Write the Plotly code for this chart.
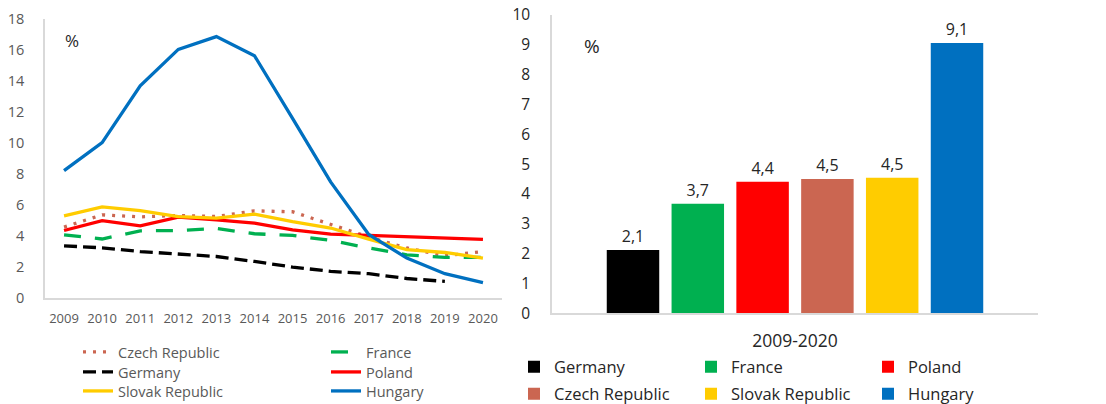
import plotly.graph_objects as go

years = list(range(2009, 2021))
czech = [4.58, 5.37, 5.24, 5.33, 5.26, 5.63, 5.57, 4.73, 3.94, 3.23, 2.73, 3.0]
france = [4.08, 3.81, 4.34, 4.36, 4.49, 4.15, 4.04, 3.72, 3.23, 2.79, 2.62, 2.62]
germany = [3.37, 3.24, 3.0, 2.86, 2.68, 2.36, 2.0, 1.72, 1.57, 1.26, 1.07, None]
poland = [4.36, 5.0, 4.66, 5.22, 5.05, 4.84, 4.4, 4.13, 4.04, 3.95, 3.89, 3.78]
slovak = [5.31, 5.89, 5.65, 5.26, 5.16, 5.42, 4.94, 4.52, 3.8, 3.12, 2.94, 2.58]
hungary = [8.23, 10.04, 13.7, 16.06, 16.88, 15.65, 11.6, 7.5, 4.1, 2.58, 1.57, 1.0]

bar_category = ["2009-2020"]
bar_names = ["Germany", "France", "Poland", "Czech Republic", "Slovak Republic", "Hungary"]
bar_values = [2.12, 3.67, 4.41, 4.5, 4.54, 9.06]
bar_colors = ["#000000", "#00B050", "#FF0000", "#CB6651", "#FFCC00", "#0070C0"]

W, H = 1106, 404
FONT = "Open Sans"
GRAY = "#595959"
DARK = "#262626"
AXIS = "#D9D9D9"

fig = go.Figure()

line_specs = [
    ("Czech Republic", czech, "#CB6651", "3px,7px", "legend"),
    ("France", france, "#00B050", "17px,14px", "legend"),
    ("Germany", germany, "#000000", "13px,6px", "legend2"),
    ("Poland", poland, "#FF0000", "solid", "legend2"),
    ("Slovak Republic", slovak, "#FFCC00", "solid", "legend3"),
    ("Hungary", hungary, "#0070C0", "solid", "legend3"),
]
for name, vals, col, dash, lg in line_specs:
    fig.add_trace(go.Scatter(
        x=years, y=vals, name=name, mode="lines",
        line=dict(color=col, width=3.3, dash=dash),
        xaxis="x", yaxis="y", legend=lg, connectgaps=False,
    ))

for i, (name, val, col) in enumerate(zip(bar_names, bar_values, bar_colors)):
    fig.add_trace(go.Bar(
        x=bar_category, y=[val], name=name, marker=dict(color=col, line=dict(width=0)),
        texttemplate="%{y:.1f}", textposition="outside",
        textfont=dict(family=FONT, size=16, color=DARK),
        xaxis="x2", yaxis="y2", legend="legend4" if i < 3 else "legend5",
        cliponaxis=False,
    ))

def px_x(p):
    return p / W

def px_y(p):
    return 1 - p / H

leg_common = dict(orientation="h", xanchor="left", yanchor="middle",
                  bgcolor="rgba(0,0,0,0)", borderwidth=0, entrywidthmode="pixels",
                  traceorder="normal")

layout_legends = {}
left_rows = [352, 372, 391]
for k, yrow in enumerate(left_rows):
    key = "legend" if k == 0 else f"legend{k+1}"
    layout_legends[key] = dict(leg_common, x=px_x(78), y=px_y(yrow), entrywidth=203,
                               font=dict(family=FONT, size=14.5, color=GRAY))
right_rows = [367, 394]
for k, yrow in enumerate(right_rows):
    key = f"legend{k+4}"
    layout_legends[key] = dict(leg_common, x=px_x(514), y=px_y(yrow), entrywidth=132,
                               font=dict(family=FONT, size=16.5, color=DARK))

fig.update_layout(
    width=W, height=H,
    margin=dict(l=0, r=0, t=0, b=0, autoexpand=False),
    paper_bgcolor="white", plot_bgcolor="white",
    font=dict(family=FONT),
    separators=", ",
    showlegend=True,
    barmode="group", bargap=0.2, bargroupgap=0.19,
    xaxis=dict(domain=[px_x(45), px_x(502)], range=[2008.5, 2020.5],
               tickmode="array", tickvals=years, ticktext=[str(y) for y in years],
               showgrid=False, zeroline=False, showline=True, linecolor=AXIS, linewidth=1.5,
               ticks="", ticklabelstandoff=8,
               tickfont=dict(family=FONT, size=13, color=GRAY), anchor="y", automargin=False),
    yaxis=dict(domain=[px_y(298), px_y(19.3)], range=[0, 18], dtick=2,
               showgrid=False, zeroline=False, showline=True, linecolor=AXIS, linewidth=1.5,
               ticks="", ticklabelstandoff=16,
               tickfont=dict(family=FONT, size=14.5, color=GRAY), anchor="x", automargin=False),
    xaxis2=dict(domain=[px_x(552), px_x(1038)], type="category",
                showgrid=False, zeroline=False, showline=True, linecolor=AXIS, linewidth=1.5,
                ticks="", ticklabelstandoff=11,
                tickfont=dict(family=FONT, size=17.5, color=DARK), anchor="y2", automargin=False),
    yaxis2=dict(domain=[px_y(313.3), px_y(15)], range=[0, 10], dtick=1,
                showgrid=False, zeroline=False, showline=True, linecolor=AXIS, linewidth=1.5,
                ticks="", ticklabelstandoff=17,
                tickfont=dict(family=FONT, size=15.5, color=DARK), anchor="x2", automargin=False),
    annotations=[
        dict(text="%", x=px_x(72), y=px_y(41), xref="paper", yref="paper",
             xanchor="center", yanchor="middle",
             showarrow=False, font=dict(family=FONT, size=17, color=DARK)),
        dict(text="%", x=px_x(592), y=px_y(46), xref="paper", yref="paper",
             xanchor="center", yanchor="middle",
             showarrow=False, font=dict(family=FONT, size=19, color=DARK)),
    ],
    **layout_legends,
)

fig.write_html("out.html", config={"displayModeBar": False},
               post_script="document.body.style.margin='0px';")
